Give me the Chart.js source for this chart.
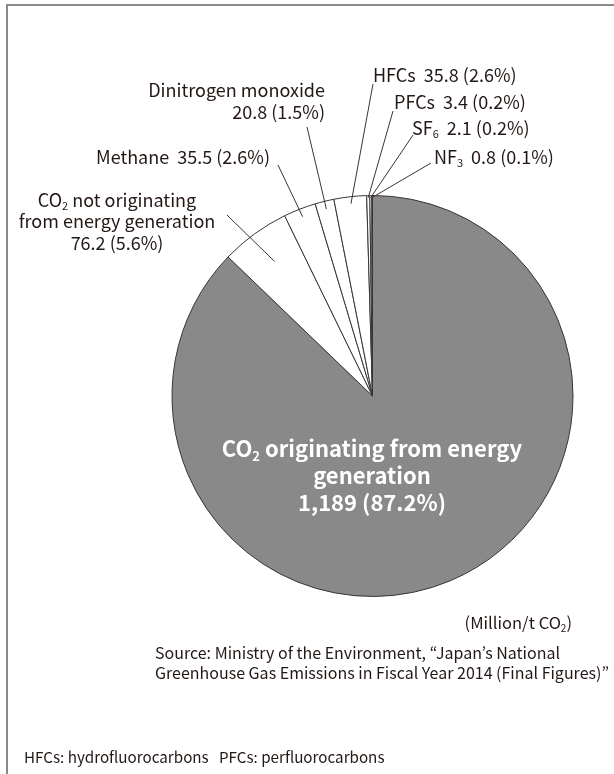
<!DOCTYPE html>
<html lang="en">
<head>
    <meta charset="UTF-8">
    <title>Greenhouse Gas Emissions in Japan, FY2014</title>
    <script src="https://cdn.jsdelivr.net/npm/chart.js@4"></script>
    <style>
        html, body {
            margin: 0;
            padding: 0;
            background: #fff;
        }

        .wrap {
            position: relative;
            width: 614px;
            height: 774px;
            overflow: hidden;
        }

        .frame {
            position: absolute;
            left: 6px;
            top: 4px;
            right: -4px;
            bottom: -4px;
            border-top: 2px solid #8e8985;
            border-left: 2px solid #8e8985;
        }

        canvas {
            position: absolute;
            left: 0;
            top: 0;
        }
    </style>
</head>
<body>
    <div class="wrap">
        <div class="frame"></div>
        <canvas id="ghgChart" width="614" height="774"></canvas>
    </div>

    <script>
        // data (million t CO2), clockwise from 12 o'clock
        const categories = ['CO2 originating from energy generation', 'CO2 not originating from energy generation',
            'Methane', 'Dinitrogen monoxide', 'HFCs', 'PFCs', 'SF6', 'NF3'];
        const emissions = [1189, 76.2, 35.5, 20.8, 35.8, 3.4, 2.1, 0.8];
        const shares = ['87.2%', '5.6%', '2.6%', '1.5%', '2.6%', '0.2%', '0.2%', '0.1%'];
        // label text per slice, "_x" = subscript, {v}/{p} = value / share
        const labelLines = [
            ['CO_2 originating from energy', 'generation', '{v} ({p})'],
            ['CO_2 not originating', 'from energy generation', '{v} ({p})'],
            ['Methane  {v} ({p})'],
            ['Dinitrogen monoxide', '{v} ({p})'],
            ['HFCs  {v} ({p})'],
            ['PFCs  {v} ({p})'],
            ['SF_6  {v} ({p})'],
            ['NF_3  {v} ({p})']
        ];

        // where the labels sit and how far into the slice the leader goes
        const labelLayout = [
            { x: 372, y: 449, align: 'center', lh: 27, size: 22, bold: true, color: '#ffffff' },
            { x: 117, y: 200, align: 'center', lh: 21.5, leader: [227, 215], depth: 0.83 },
            { x: 270, y: 157, align: 'right', leader: [278, 165], depth: 0.96 },
            { x: 325, y: 90, align: 'right', lh: 22.5, leader: [307, 127], depth: 0.96 },
            { x: 373, y: 75, align: 'left', leader: [373, 84], depth: 0.965 },
            { x: 394, y: 102, align: 'left', leader: [393, 111], depth: 0.99 },
            { x: 412, y: 128, align: 'left', leader: [413, 135], depth: 0.99 },
            { x: 434, y: 157, align: 'left', leader: [431, 163], depth: 0.99 }
        ];

        const FONT = "'Noto Sans CJK JP', 'Noto Sans', sans-serif";
        const INK = '#231815';

        function fmt(v) {
            return v >= 1000 ? v.toLocaleString('en-US') : v.toFixed(1);
        }

        function parseRich(str) {
            const parts = [];
            let buf = '';
            for (let i = 0; i < str.length; i++) {
                if (str[i] === '_' && i + 1 < str.length) {
                    if (buf) parts.push({ t: buf, sub: false });
                    parts.push({ t: str[i + 1], sub: true });
                    buf = '';
                    i++;
                } else {
                    buf += str[i];
                }
            }
            if (buf) parts.push({ t: buf, sub: false });
            return parts;
        }

        function drawRich(ctx, str, x, y, align, size, bold, color) {
            const w = bold ? 'bold ' : '';
            const mainFont = w + size + 'px ' + FONT;
            const subFont = w + Math.round(size * 0.6) + 'px ' + FONT;
            const parts = parseRich(str);
            let total = 0;
            parts.forEach(p => {
                ctx.font = p.sub ? subFont : mainFont;
                p.w = ctx.measureText(p.t).width;
                total += p.w;
            });
            let cx = x;
            if (align === 'center') cx = x - total / 2;
            if (align === 'right') cx = x - total;
            ctx.fillStyle = color;
            ctx.textAlign = 'left';
            ctx.textBaseline = 'middle';
            parts.forEach(p => {
                ctx.font = p.sub ? subFont : mainFont;
                ctx.fillText(p.t, cx, p.sub ? y + size * 0.3 : y);
                cx += p.w;
            });
        }

        const sliceLabels = {
            id: 'sliceLabels',
            afterDatasetsDraw(chart) {
                const ctx = chart.ctx;
                const arcs = chart.getDatasetMeta(0).data;
                ctx.save();
                arcs.forEach((arc, i) => {
                    const lay = labelLayout[i];
                    if (lay.leader) {
                        const mid = (arc.startAngle + arc.endAngle) / 2;
                        const r = arc.outerRadius * lay.depth;
                        ctx.beginPath();
                        ctx.moveTo(lay.leader[0], lay.leader[1]);
                        ctx.lineTo(arc.x + Math.cos(mid) * r, arc.y + Math.sin(mid) * r);
                        ctx.strokeStyle = '#3b3434';
                        ctx.lineWidth = 1;
                        ctx.stroke();
                    }
                    labelLines[i].forEach((line, k) => {
                        const txt = line.replace('{v}', fmt(emissions[i])).replace('{p}', shares[i]);
                        drawRich(ctx, txt, lay.x, lay.y + k * (lay.lh || 21), lay.align,
                            lay.size || 18, lay.bold, lay.color || INK);
                    });
                });

                // unit + source notes
                drawRich(ctx, '(Million/t CO_2)', 572, 623, 'right', 16.5, false, INK);
                drawRich(ctx, 'Source: Ministry of the Environment, \u201cJapan\u2019s National', 155, 653, 'left', 16, false, INK);
                drawRich(ctx, 'Greenhouse Gas Emissions in Fiscal Year 2014 (Final Figures)\u201d', 155, 673, 'left', 16, false, INK);
                drawRich(ctx, 'HFCs: hydrofluorocarbons   PFCs: perfluorocarbons', 24, 757, 'left', 15.2, false, INK);
                ctx.restore();
            }
        };

        new Chart(document.getElementById('ghgChart').getContext('2d'), {
            type: 'pie',
            data: {
                labels: categories,
                datasets: [{
                    data: emissions,
                    backgroundColor: emissions.map((v, i) => i === 0 ? '#898989' : '#ffffff'),
                    borderColor: '#3b3434',
                    borderWidth: 1
                }]
            },
            options: {
                responsive: false,
                animation: false,
                layout: {
                    padding: { left: 171, right: 40, top: 195, bottom: 177 }
                },
                plugins: {
                    legend: { display: false },
                    tooltip: { enabled: false }
                }
            },
            plugins: [sliceLabels]
        });
    </script>
</body>
</html>
